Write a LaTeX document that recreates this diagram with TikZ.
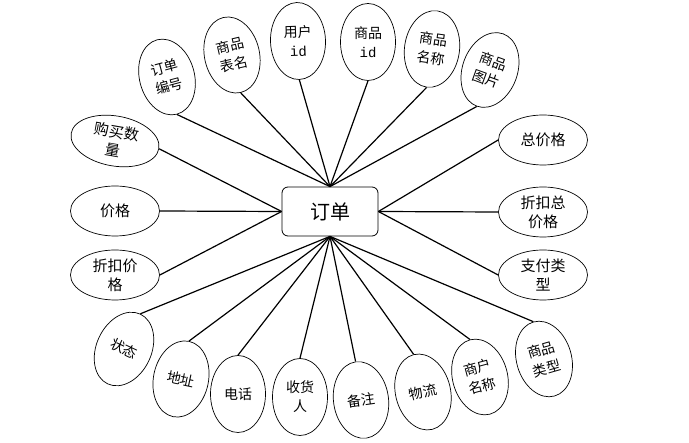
\documentclass[tikz,border=0pt]{standalone}
\usepackage{fontspec}
\setmainfont{Noto Sans CJK SC}
\newfontfamily\latinmono{Liberation Mono}
\usetikzlibrary{shapes.geometric}
\tikzset{
  vattr/.style={draw, ellipse, line width=0.7pt, minimum width=55pt, minimum height=77pt, inner sep=0pt, align=center, font=\fontsize{14}{19}\selectfont},
  hattr/.style={draw, ellipse, line width=0.7pt, minimum width=89pt, minimum height=50pt, inner sep=0pt, align=center, font=\fontsize{15}{19}\selectfont},
  entitybox/.style={draw, rounded corners=6pt, line width=0.8pt, minimum width=96pt, minimum height=49pt, inner sep=0pt, font=\fontsize{20}{24}\selectfont},
  conn/.style={line width=1.2pt}
}
\begin{document}
\begin{tikzpicture}[x=1pt,y=-1pt]
\useasboundingbox (0,0) rectangle (689,443);
\node[entitybox] (o) at (330,211.5) {订单};
% top
\node[vattr, rotate=15] (on) at (167,77) {订单\\编号};
\node[vattr, rotate=13] (bt) at (232,55) {商品\\表名};
\node[vattr, rotate=2] (uid) at (298,41) {用户\\{\latinmono id}};
\node[vattr] (pid) at (368,42) {商品\\{\latinmono id}};
\node[vattr, rotate=-8] (pn) at (432,49) {商品\\名称};
\node[vattr, rotate=-20] (pic) at (490,70) {商品\\图片};
% left
\node[hattr, rotate=-10] (qty) at (115,141) {购买数\\量};
\node[hattr] (price) at (115,211) {价格};
\node[hattr] (dprice) at (115,275) {折扣价\\格};
% right
\node[hattr] (total) at (543,140) {总价格};
\node[hattr] (dtotal) at (543,212) {折扣总\\价格};
\node[hattr] (pay) at (543,275) {支付类\\型};
% bottom
\node[vattr, rotate=-25] (st) at (124,349) {状态};
\node[vattr, rotate=-12] (addr) at (181,379) {地址};
\node[vattr] (tel) at (238,394) {电话};
\node[vattr] (recv) at (300,397) {收货\\人};
\node[vattr, rotate=8] (note) at (361,400) {备注};
\node[vattr, rotate=14] (logi) at (423,392) {物流};
\node[vattr, rotate=15] (shop) at (480,377) {商户\\名称};
\node[vattr, rotate=16] (ptype) at (544,359) {商品\\类型};
% connectors
\foreach \n in {on,bt,uid,pid,pn,pic} \draw[conn] (o.north) -- (\n.south);
\foreach \n in {qty,price,dprice} \draw[conn] (o.west) -- (\n.east);
\foreach \n in {total,dtotal,pay} \draw[conn] (o.east) -- (\n.west);
\foreach \n in {st,addr,tel,recv,note,logi,shop,ptype} \draw[conn] (o.south) -- (\n.north);
\end{tikzpicture}
\end{document}
